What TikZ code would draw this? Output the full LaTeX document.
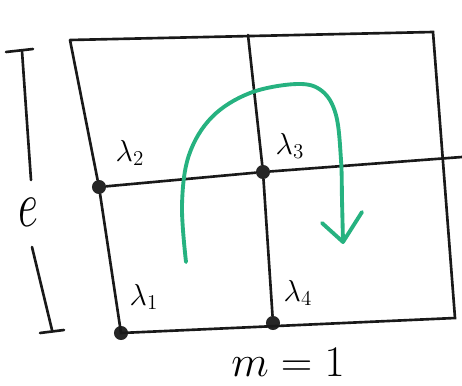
\documentclass[tikz,border=0pt]{standalone}
\usepackage{amsmath,amssymb}
\usepackage{xcolor}
\usetikzlibrary{positioning,calc}
\definecolor{sweep}{RGB}{38,178,128}

\begin{document}
\begin{tikzpicture}[x=0.02cm, y=-0.02cm,
  pen/.style={line width=1.5pt, line cap=round, black!90},
  site/.style={circle, fill=black!85, inner sep=0pt, minimum size=8pt},
  lab/.style={font=\LARGE},
  path/.style={line width=2.2pt, sweep, line cap=round, line join=round}]
  \useasboundingbox (0,0) rectangle (462,385);
  % Outer corners
  \coordinate (tl) at (70,40);
  \coordinate (tr) at (433,32);
  \coordinate (br) at (455,318);
  \coordinate (bl) at (121,333);
  % Inner line ends
  \coordinate (mt) at (248,35);
  \coordinate (mb) at (272,325);
  \coordinate (hr) at (462,157);
  % Sites
  \node[site] (s1) at (121,333) {};
  \node[site] (s2) at (99,187) {};
  \node[site] (s3) at (263,172) {};
  \node[site] (s4) at (273,323) {};
  % Grid
  \draw[pen] (tl) -- (tr) -- (br) -- (bl) -- (s2) -- (tl);
  \draw[pen] (mt) -- (s3) -- (s4);
  \draw[pen] (s2) -- (s3) -- (hr);
  % Labels
  \node[lab] (l1) at (144,297) {$\lambda_1$};
  \node[lab] (l2) at (130,153) {$\lambda_2$};
  \node[lab] (l3) at (290,146) {$\lambda_3$};
  \node[lab] (l4) at (298,293) {$\lambda_4$};
  % Green sweep
  \coordinate (p0) at (186,262);
  \coordinate (ptip) at (343,242);
  \coordinate (wl) at (322,223);
  \coordinate (wr) at (362,212);
  \draw[path] plot[smooth, tension=0.6] coordinates {(186,262) (182,205)
    (189,155) (212,117) (250,93) (297,84) (322,91) (336,115) (341,160)
    (342,200) (343,242)};
  \draw[path] (wl) -- (ptip) -- (wr);
  % Height marker
  \coordinate (et) at (22,51);
  \coordinate (eu) at (31,180);
  \coordinate (ed) at (32,247);
  \coordinate (eb) at (52,330);
  \node[font=\Huge, yscale=1.5] (e) at (28,212) {$e$};
  \draw[pen] (6,52) -- (33,49);
  \draw[pen] (et) -- (eu);
  \draw[pen] (ed) -- (eb);
  \draw[pen] (40,333) -- (64,330);
  % Width
  \node[font=\Huge] (m) at (288,362) {$m=1$};
\end{tikzpicture}
\end{document}
